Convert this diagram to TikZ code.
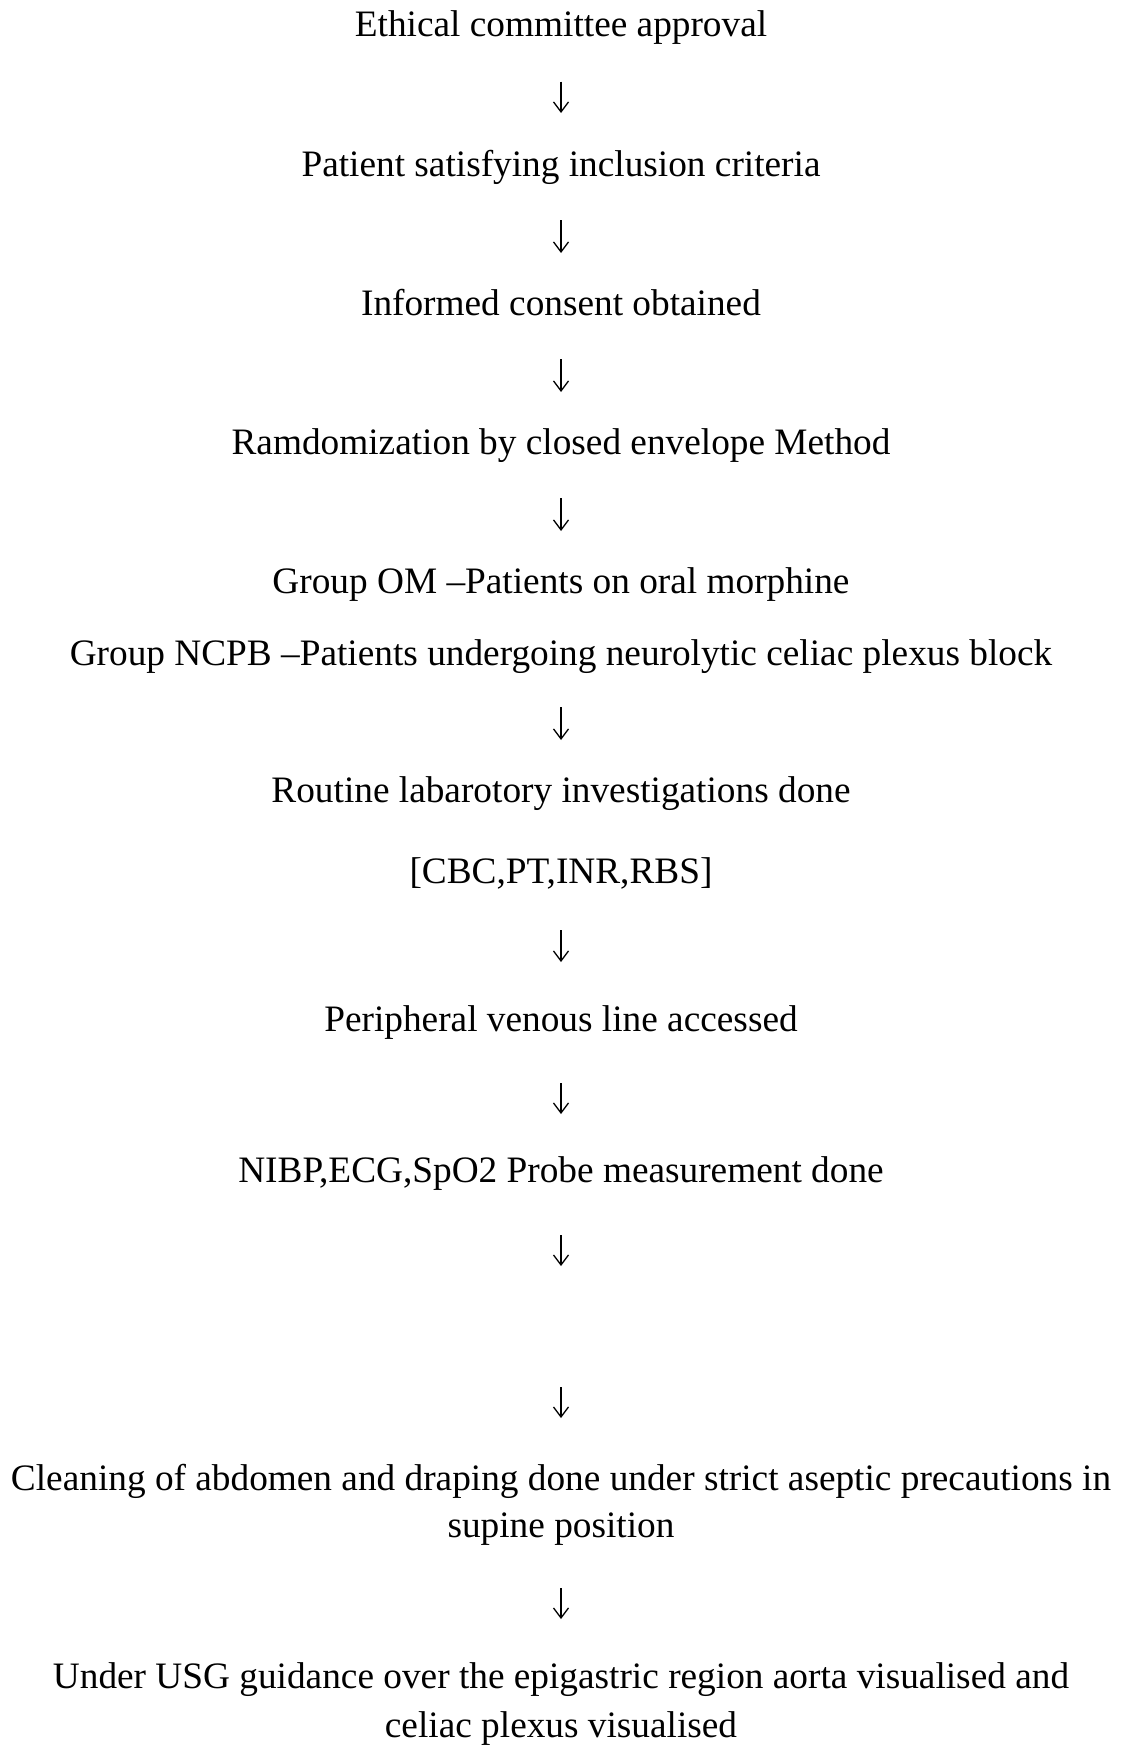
\documentclass[tikz,border=0pt]{standalone}
\usepackage{fontspec}
\setmainfont{Liberation Serif}
\usetikzlibrary{arrows.meta}
\begin{document}
\begin{tikzpicture}[x=1pt,y=-1pt,
  txt/.style={inner sep=0pt,anchor=base,font=\fontsize{37.3pt}{49pt}\selectfont},
  flow/.style={line width=1.3pt,-{Straight Barb[length=10pt,width=15pt,line width=1.3pt]}}]
\useasboundingbox (0,0) rectangle (1122,1745);
\node[txt] (e1) at (561,36.7) {Ethical committee approval};
\node[txt] (e2) at (561,176) {Patient satisfying inclusion criteria};
\node[txt] (e3) at (561,315) {Informed consent obtained};
\node[txt] (e4) at (561,454) {Ramdomization by closed envelope Method};
\node[txt] (e5a) at (561,593) {Group OM –Patients on oral morphine};
\node[txt] (e5b) at (561,665) {Group NCPB –Patients undergoing neurolytic celiac plexus block};
\node[txt] (e6a) at (561,802) {Routine labarotory investigations done};
\node[txt] (e6b) at (561,883) {[CBC,PT,INR,RBS]};
\node[txt] (e7) at (561,1031) {Peripheral venous line accessed};
\node[txt] (e8) at (561,1182) {NIBP,ECG,SpO2 Probe measurement done};
\node[txt] (e9a) at (561,1490) {Cleaning of abdomen and draping done under strict aseptic precautions in};
\node[txt] (e9b) at (561,1537) {supine position};
\node[txt] (e10a) at (561,1688) {Under USG guidance over the epigastric region aorta visualised and};
\node[txt] (e10b) at (561,1737) {celiac plexus visualised};
\coordinate (g1) at (561,1266);
\coordinate (g2) at (561,1387);
\draw[flow] ([yshift=-45pt]e1.base) -- ([yshift=63pt]e2.base);
\draw[flow] ([yshift=-44pt]e2.base) -- ([yshift=62pt]e3.base);
\draw[flow] ([yshift=-44pt]e3.base) -- ([yshift=62pt]e4.base);
\draw[flow] ([yshift=-44pt]e4.base) -- ([yshift=62pt]e5a.base);
\draw[flow] ([yshift=-42pt]e5b.base) -- ([yshift=62pt]e6a.base);
\draw[flow] ([yshift=-47pt]e6b.base) -- ([yshift=69pt]e7.base);
\draw[flow] ([yshift=-52pt]e7.base) -- ([yshift=68pt]e8.base);
\draw[flow] ([yshift=-53pt]e8.base) -- (g1);
\draw[flow] (g2) -- ([yshift=72pt]e9a.base);
\draw[flow] ([yshift=-51pt]e9b.base) -- ([yshift=69pt]e10a.base);
\end{tikzpicture}
\end{document}
